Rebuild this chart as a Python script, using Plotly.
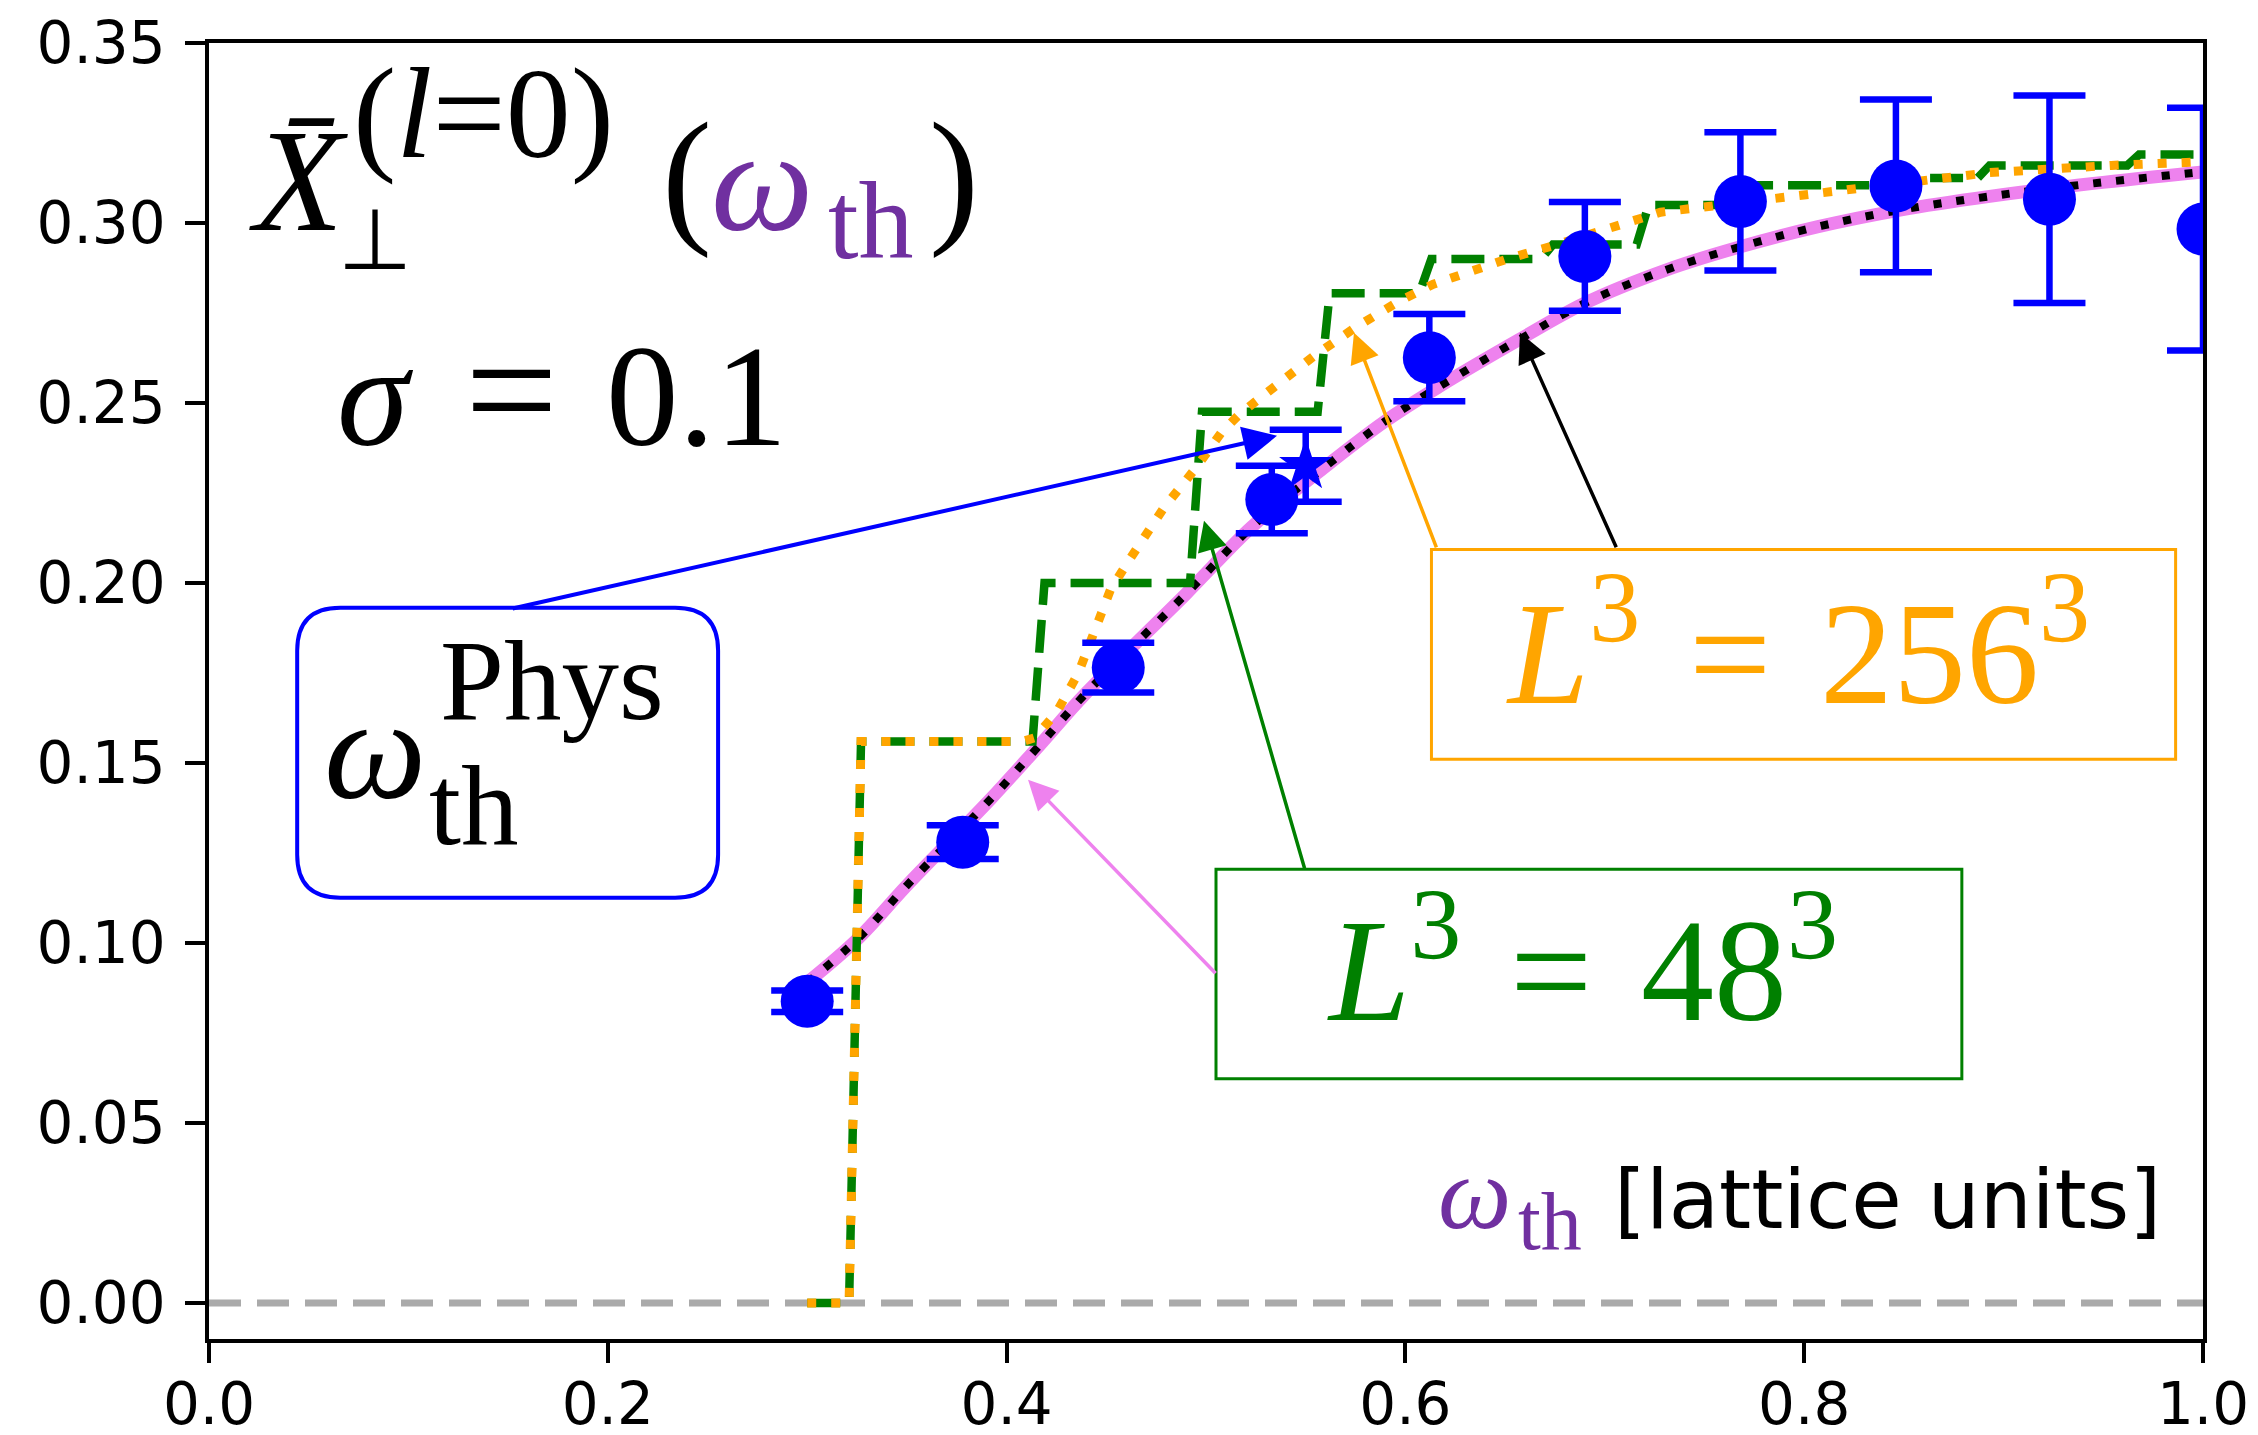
import plotly.graph_objects as go

# ---------------- data ----------------
omega = [0.300, 0.378, 0.456, 0.533, 0.612, 0.690, 0.768, 0.846, 0.923, 1.000]
xbar = [0.0838, 0.1280, 0.1765, 0.2232, 0.2626, 0.2907, 0.3060, 0.3103, 0.3066, 0.2983]
xbar_err = [0.0030, 0.0047, 0.0069, 0.0094, 0.0121, 0.0151, 0.0192, 0.0240, 0.0288, 0.0337]

phys_omega = [0.550]
phys_xbar = [0.2326]
phys_err = [0.0100]

fit_omega = [0.300, 0.326, 0.350, 0.392, 0.415, 0.440, 0.490, 0.523, 0.560, 0.590,
             0.617, 0.657, 0.691, 0.731, 0.768, 0.807, 0.848, 0.893, 0.945, 1.000]
fit_xbar = [0.0890, 0.1015, 0.1160, 0.1400, 0.1540, 0.1695, 0.1970, 0.2156, 0.2324, 0.2450,
            0.2546, 0.2676, 0.2780, 0.2870, 0.2934, 0.2990, 0.3036, 0.3074, 0.3110, 0.3142]

l48_omega = [0.300, 0.321, 0.327, 0.413, 0.419, 0.492, 0.498, 0.556, 0.562, 0.607, 0.613, 0.668,
             0.674, 0.716, 0.722, 0.765, 0.771, 0.836, 0.842, 0.887, 0.893, 0.962, 0.968, 1.000]
l48_xbar = [0.0, 0.0, 0.156, 0.156, 0.200, 0.200, 0.2476, 0.2476, 0.2805, 0.2805, 0.290, 0.290,
            0.294, 0.294, 0.305, 0.305, 0.3105, 0.3105, 0.3125, 0.3125, 0.316, 0.316, 0.319, 0.319]

l256_omega = [0.300, 0.321, 0.327, 0.408, 0.414, 0.425, 0.436, 0.444, 0.452, 0.461, 0.479, 0.495,
              0.508, 0.517, 0.536, 0.554, 0.575, 0.596, 0.614, 0.636, 0.651, 0.676, 0.703, 0.728,
              0.743, 0.789, 0.811, 0.869, 0.893, 0.954, 1.000]
l256_xbar = [0.0, 0.0, 0.156, 0.156, 0.157, 0.164, 0.175, 0.187, 0.198, 0.206, 0.221, 0.232,
             0.242, 0.247, 0.255, 0.263, 0.271, 0.278, 0.283, 0.2875, 0.290, 0.294, 0.299, 0.303,
             0.304, 0.307, 0.309, 0.3125, 0.314, 0.316, 0.317]

x_ticks = [0.0, 0.2, 0.4, 0.6, 0.8, 1.0]
x_ticklabels = ["0.0", "0.2", "0.4", "0.6", "0.8", "1.0"]
y_ticks = [0.00, 0.05, 0.10, 0.15, 0.20, 0.25, 0.30, 0.35]
y_ticklabels = ["0.00", "0.05", "0.10", "0.15", "0.20", "0.25", "0.30", "0.35"]

# ---------------- styling ----------------
SERIF = "Liberation Serif"
SANS = "DejaVu Sans"
PURPLE = "#7030a0"
BLUE = "#0000ff"
GREEN = "#008000"
ORANGE = "#ffa500"
VIOLET = "#ee82ee"
SP = "\u2004"  # three-per-em space (math-like spacing around '=')

# plot-area geometry in page pixels (page has an 8px body margin)
PX_L, PX_T, PW, PH = 208.8, 43.2, 1994.4, 1296.0
XR = [0.0, 1.0]
YR = [-0.01, 0.35]
PPU_Y = PH / (YR[1] - YR[0])


def px2x(X):
    return XR[0] + (X - PX_L) / PW * (XR[1] - XR[0])


def px2y(Y):
    return YR[1] - (Y - PX_T) / PPU_Y


fig = go.Figure()

fig.add_trace(go.Scatter(x=fit_omega, y=fit_xbar, mode="lines", line_shape="spline",
                         line=dict(color=VIOLET, width=13), showlegend=False))
fig.add_trace(go.Scatter(x=fit_omega, y=fit_xbar, mode="lines", line_shape="spline",
                         line=dict(color="black", width=8, dash="8px,15px"), showlegend=False))
fig.add_trace(go.Scatter(x=l48_omega, y=l48_xbar, mode="lines",
                         line=dict(color=GREEN, width=8.5, dash="33px,15px"), showlegend=False))
fig.add_trace(go.Scatter(x=l256_omega, y=l256_xbar, mode="lines",
                         line=dict(color=ORANGE, width=9, dash="9px,15px"), showlegend=False))
fig.add_trace(go.Scatter(x=omega, y=xbar, mode="markers",
                         marker=dict(color=BLUE, size=53, symbol="circle"),
                         error_y=dict(type="data", array=xbar_err, visible=True,
                                      color=BLUE, thickness=6.5, width=36),
                         showlegend=False))
fig.add_trace(go.Scatter(x=phys_omega, y=phys_xbar, mode="markers",
                         marker=dict(color=BLUE, size=40, symbol="star"),
                         error_y=dict(type="data", array=phys_err, visible=True,
                                      color=BLUE, thickness=6.5, width=36),
                         showlegend=False))

# zero line
fig.add_shape(type="line", xref="x", yref="y", x0=0, x1=1, y0=0, y1=0, layer="below",
              line=dict(color="#aaaaaa", width=7, dash="32px,16px"))


def rounded(x0, x1, y0, y1, rx, ry):
    return (f"M {x0+rx},{y0} L {x1-rx},{y0} Q {x1},{y0} {x1},{y0+ry} "
            f"L {x1},{y1-ry} Q {x1},{y1} {x1-rx},{y1} L {x0+rx},{y1} "
            f"Q {x0},{y1} {x0},{y1-ry} L {x0},{y0+ry} Q {x0},{y0} {x0+rx},{y0} Z")


rad = 43.0
fig.add_shape(type="path", xref="x", yref="y",
              path=rounded(px2x(297), px2x(718), px2y(898), px2y(608),
                           rad / PW, rad / PPU_Y),
              line=dict(color=BLUE, width=4), fillcolor="white", layer="above")
fig.add_shape(type="rect", xref="x", yref="y", x0=px2x(1431.5), x1=px2x(2175.8),
              y0=px2y(759.5), y1=px2y(549.6),
              line=dict(color=ORANGE, width=3), fillcolor="white", layer="above")
fig.add_shape(type="rect", xref="x", yref="y", x0=px2x(1216), x1=px2x(1962),
              y0=px2y(1079), y1=px2y(869.5),
              line=dict(color=GREEN, width=3), fillcolor="white", layer="above")

ann = []


def text(cx, base, s, size, color="black", family=SERIF, k=0.3375):
    """cx: horizontal centre (page px); base: text baseline (page px)."""
    ann.append(dict(x=px2x(cx), y=px2y(base) + k * size / PPU_Y, xref="x", yref="y",
                    text=s, showarrow=False, xanchor="center", yanchor="middle",
                    font=dict(family=family, size=size, color=color)))


def arrow(x0, y0, x1, y1, color, width=3.5):
    ann.append(dict(x=px2x(x1), y=px2y(y1), ax=px2x(x0), ay=px2y(y0),
                    xref="x", yref="y", axref="x", ayref="y",
                    text="", showarrow=True, arrowhead=2, arrowsize=1.7,
                    arrowwidth=width, arrowcolor=color))


# title formula  X̄_⊥^(l=0) (ω_th)
text(298, 230, "<i>X\u0304</i>", 146)
text(483, 157, "(<i>l</i>=0)", 130)
text(374.5, 269, "\u22a5", 85)
text(687, 226, "(", 150)
text(762, 230, "<i>\u03c9</i>", 145, PURPLE)
text(870.5, 258, "th", 110, PURPLE)
text(953.5, 226, ")", 150)

# sigma = 0.1
text(375, 445, "<i>\u03c3</i>", 145)
text(511, 445, "=", 165)
text(696, 445, "0.1", 145)

# physical point box text
text(375, 798, "<i>\u03c9</i>", 145)
text(552, 720, "Phys", 115)
text(473.5, 845, "th", 115)

# volume boxes
text(1798, 704, f"<i>L</i><sup>3</sup>{SP}={SP}256<sup>3</sup>", 146, ORANGE, k=0.414)
text(1582.5, 1021, f"<i>L</i><sup>3</sup>{SP}={SP}48<sup>3</sup>", 146, GREEN, k=0.414)

# x label
text(1887.5, 1228, "[lattice units]", 82, "black", SANS, k=0.346)
text(1475, 1228, "<i>\u03c9</i>", 104, PURPLE)
text(1550, 1249, "th", 82, PURPLE)

# arrows (tail -> head), page px
arrow(511, 609, 1277, 436, BLUE, 4)
arrow(1437, 549, 1354, 333, ORANGE)
arrow(1617, 549, 1520, 333, "black")
arrow(1305, 870, 1204, 521, GREEN)
arrow(1217, 975, 1028, 780, VIOLET)

axis_common = dict(showline=True, linecolor="black", linewidth=3.5, mirror=True,
                   ticks="outside", ticklen=20, tickwidth=3.5, tickcolor="black",
                   showgrid=False, zeroline=False, automargin=False,
                   tickfont=dict(family=SANS, size=58, color="black"))

FIG_W, FIG_H = 2250, 1427
m_l = PX_L - 8
m_t = PX_T - 8
fig.update_layout(
    width=FIG_W, height=FIG_H,
    margin=dict(l=m_l, r=FIG_W - m_l - PW, t=m_t, b=FIG_H - m_t - PH, pad=0),
    paper_bgcolor="white", plot_bgcolor="white",
    xaxis=dict(range=XR, tickvals=x_ticks, ticktext=x_ticklabels,
               ticklabelstandoff=-8, **axis_common),
    yaxis=dict(range=YR, tickvals=y_ticks, ticktext=y_ticklabels,
               ticklabelstandoff=8, **axis_common),
    annotations=ann,
    showlegend=False,
)

fig.write_html("out.html")
